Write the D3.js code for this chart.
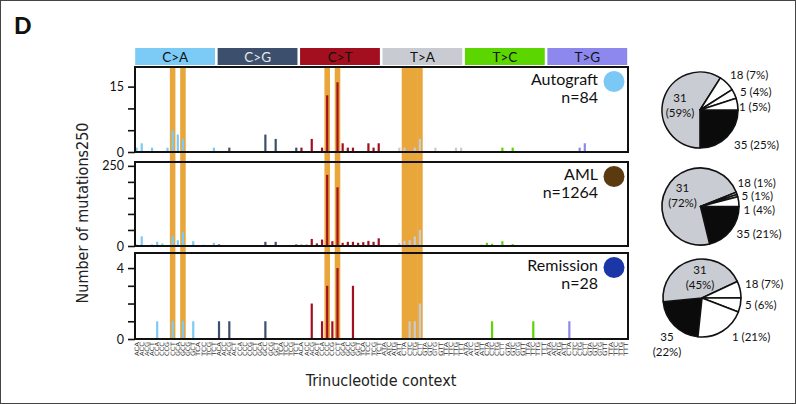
<!doctype html>
<html>
<head>
    <meta charset="UTF-8">
    <title>Trinucleotide context</title>
    <script src="https://d3js.org/d3.v7.min.js"></script>
    <style>
        body { margin: 0; background: #fff; }
        text { font-family: Lato, "Open Sans", sans-serif; fill: #111; }
        .cond { font-family: "DejaVu Sans Condensed", "DejaVu Sans", sans-serif; font-stretch: condensed; }
    </style>
</head>
<body>
    <script>
        // mutation types and their colours
        var categories = ["C>A", "C>G", "C>T", "T>A", "T>C", "T>G"];
        var catColors = ["#7ccaf6", "#3c4f6c", "#a30f1e", "#c8ccd2", "#5bd600", "#8c88ee"];
        var catText = ["#111", "#e8e8e8", "#111", "#111", "#111", "#111"];
        var bases = ["A", "C", "G", "T"];

        // samples
        var samples = ["Autograft", "AML", "Remission"];
        var counts = [84, 1264, 28];
        var sampleColors = ["#79c8f5", "#5b3a10", "#1b36a6"];
        var yMax = [19.5, 262, 4.85];
        var yTicks = [[0, 5, 10, 15], [0, 50, 100, 150, 200, 250], [0, 1, 2, 3, 4]];
        var yLabels = [[0, 15], [0, 250], [0, 4]];

        // 96 counts per sample, 16 per mutation type (C>A, C>G, C>T, T>A, T>C, T>G)
        var autograft = [
            1, 2, 0, 1, 0, 0, 1, 5, 4, 3, 0, 0, 0, 0, 0, 1,
            0, 0, 1, 0, 0, 0, 0, 0, 0, 4, 0, 3, 0, 0, 0, 1,
            1, 0, 3, 0, 1, 13, 0, 16, 2, 1, 1, 0, 0, 2, 1, 2,
            0, 0, 0, 1, 1, 0, 1, 3, 0, 0, 1, 0, 0, 0, 1, 1,
            0, 0, 0, 0, 0, 0, 0, 1, 0, 1, 0, 0, 0, 0, 0, 0,
            0, 0, 0, 0, 0, 0, 1, 2, 0, 0, 0, 0, 0, 0, 0, 0
        ];
        var aml = [
            5, 30, 1, 5, 13, 8, 2, 32, 18, 44, 2, 15, 2, 4, 1, 10,
            5, 2, 2, 2, 2, 2, 1, 2, 3, 13, 1, 13, 2, 2, 1, 5,
            4, 4, 22, 8, 20, 222, 15, 183, 10, 13, 13, 10, 12, 16, 13, 24,
            1, 1, 1, 9, 16, 18, 30, 50, 1, 1, 1, 1, 3, 1, 2, 3,
            3, 1, 3, 4, 10, 7, 2, 15, 2, 6, 1, 3, 2, 3, 2, 2,
            1, 2, 1, 2, 2, 2, 2, 1, 2, 1, 1, 1, 1, 1, 3, 1
        ];
        var remission = [
            0, 0, 0, 0, 1, 0, 0, 1, 0, 1, 0, 1, 0, 0, 0, 0,
            1, 0, 1, 0, 0, 0, 0, 0, 0, 1, 0, 0, 0, 0, 0, 0,
            0, 0, 2, 0, 1, 3, 1, 4, 0, 0, 3, 0, 0, 0, 0, 0,
            0, 0, 0, 0, 0, 1, 1, 2, 0, 0, 0, 0, 0, 0, 0, 0,
            0, 0, 0, 0, 0, 1, 0, 0, 0, 0, 0, 0, 0, 1, 0, 0,
            0, 0, 0, 0, 1, 0, 0, 0, 0, 0, 0, 0, 0, 0, 0, 0
        ];
        var sampleData = [autograft, aml, remission];

        // highlighted contexts (orange columns)
        var highlights = [7, 9, 37, 39, 52, 53, 54, 55];

        // signature pies: order clockwise 35, 31, 18, 5, 1
        var signatures = ["35", "31", "18", "5", "1"];
        var pieAutograft = [25, 59, 7, 4, 5];
        var pieAml = [21, 72, 1, 1, 4];
        var pieRemission = [22, 45, 7, 6, 21];
        var pieData = [pieAutograft, pieAml, pieRemission];

        // context labels
        var contexts = [];
        categories.forEach(function (c) {
            bases.forEach(function (b5) {
                bases.forEach(function (b3) {
                    contexts.push(b5 + c[0] + b3);
                });
            });
        });

        var w = 796, h = 404;
        var left = 134, right = 628.6;
        var panelTop = [67, 162, 253];
        var panelBottom = [152, 246, 339];

        var svg = d3.select("body").append("svg")
            .attr("width", w)
            .attr("height", h);

        svg.append("rect")
            .attr("x", 0.5).attr("y", 0.5)
            .attr("width", w - 1).attr("height", h - 1)
            .attr("fill", "#fff")
            .attr("stroke", "#444")
            .attr("stroke-width", 1);

        var x = d3.scaleBand().domain(d3.range(96)).range([left, right]).padding(0);
        var bw = x.bandwidth();
        var barW = 2.2;

        // panel letter
        svg.append("text")
            .attr("x", 14).attr("y", 34)
            .style("font-size", "23px")
            .style("font-weight", "900")
            .text("D");

        // header boxes
        var head = svg.selectAll("g.head").data(categories).enter().append("g").attr("class", "head");
        head.append("rect")
            .attr("x", function (d, i) { return x(i * 16) + 1.2; })
            .attr("y", 48)
            .attr("width", bw * 16 - 2.6)
            .attr("height", 17)
            .attr("fill", function (d, i) { return catColors[i]; });
        head.append("text")
            .attr("x", function (d, i) { return x(i * 16) + bw * 8; })
            .attr("y", 61.5)
            .attr("text-anchor", "middle")
            .style("font-size", "13.5px")
            .style("fill", function (d, i) { return catText[i]; })
            .text(function (d) { return d; });

        // orange highlight columns through all panels
        svg.selectAll("rect.hl").data(highlights).enter().append("rect")
            .attr("class", "hl")
            .attr("x", function (d) { return x(d) - 0.2; })
            .attr("y", panelTop[0])
            .attr("width", bw + 0.4)
            .attr("height", panelBottom[2] - panelTop[0])
            .attr("fill", "#e9a63b");

        samples.forEach(function (name, k) {
            var y = d3.scaleLinear().domain([0, yMax[k]]).range([panelBottom[k], panelTop[k]]);
            var g = svg.append("g");

            g.selectAll("rect.bar").data(sampleData[k]).enter().append("rect")
                .attr("class", "bar")
                .attr("x", function (d, i) { return x(i) + (bw - barW) / 2; })
                .attr("y", function (d) { return y(d); })
                .attr("width", barW)
                .attr("height", function (d) { return panelBottom[k] - y(d); })
                .attr("fill", function (d, i) { return catColors[Math.floor(i / 16)]; });

            // box
            g.append("rect")
                .attr("x", 135).attr("y", panelTop[k])
                .attr("width", 628 - 135).attr("height", panelBottom[k] - panelTop[k])
                .attr("fill", "none")
                .attr("stroke", "#111")
                .attr("stroke-width", 2);

            var axis = d3.axisLeft(y)
                .tickValues(yTicks[k])
                .tickSize(7)
                .tickPadding(4)
                .tickFormat(function (d) { return yLabels[k].indexOf(d) >= 0 ? d : ""; });
            var ax = g.append("g").attr("transform", "translate(135,0)").call(axis);
            ax.select(".domain").remove();
            ax.selectAll("line").attr("stroke", "#111").attr("stroke-width", 1.6);
            ax.selectAll("text").style("font-size", "12.5px").style("font-family", "Lato, sans-serif").attr("fill", "#111");

            // sample name, count, dot
            g.append("text")
                .attr("x", 598).attr("y", panelTop[k] + 18)
                .attr("text-anchor", "end")
                .style("font-size", "16px")
                .text(name);
            g.append("text")
                .attr("x", 598).attr("y", panelTop[k] + 36)
                .attr("text-anchor", "end")
                .style("font-size", "16px")
                .text("n=" + counts[k]);
            g.append("circle")
                .attr("cx", 614).attr("cy", panelTop[k] + 14.5)
                .attr("r", 10.5)
                .attr("fill", sampleColors[k]);
        });

        // x context labels
        svg.selectAll("text.ctx").data(contexts).enter().append("text")
            .attr("class", "ctx cond")
            .attr("transform", function (d, i) { return "translate(" + (x(i) + bw / 2 + 2) + ",342) rotate(-90)"; })
            .attr("text-anchor", "end")
            .attr("textLength", 14)
            .attr("lengthAdjust", "spacingAndGlyphs")
            .style("font-size", "6px")
            .style("fill", "#333")
            .text(function (d) { return d; });

        // axis titles
        svg.append("text")
            .attr("class", "cond")
            .attr("transform", "translate(88,213) rotate(-90)")
            .attr("text-anchor", "middle")
            .style("font-size", "16px")
            .style("fill", "#222")
            .text("Number of mutations250");
        svg.append("text")
            .attr("class", "cond")
            .attr("x", 381).attr("y", 386)
            .attr("text-anchor", "middle")
            .style("font-size", "16px")
            .style("fill", "#222")
            .text("Trinucleotide context");

        // pies
        var pieCenters = [[700, 110], [700.5, 206.5], [702, 298]];
        var pieR = [38, 38.5, 39];
        var pieStart = [90, 90, 186];
        var sliceFill = ["#0b0b0b", "#c9ccd2", "#fff", "#fff", "#fff"];
        // label offsets from pie centre: [dx, dy, twoLines]
        var labelPos = [
            [[34, 39, 0], [-20, -8, 1], [30, -31, 0], [40, -14, 0], [39, 1, 0]],
            [[36, 31, 0], [-18, -15, 1], [37, -20, 0], [41, -7, 0], [43, 7, 0]],
            [[-35, 43, 1], [-2, -24, 1], [43, -10, 0], [43, 11, 0], [30, 43, 0]]
        ];

        pieData.forEach(function (vals, k) {
            var s = pieStart[k] * Math.PI / 180;
            var pie = d3.pie().sort(null).value(function (d) { return d; })
                .startAngle(s).endAngle(s + 2 * Math.PI);
            var arc = d3.arc().innerRadius(0).outerRadius(pieR[k]);
            var g = svg.append("g")
                .attr("transform", "translate(" + pieCenters[k][0] + "," + pieCenters[k][1] + ")");
            var arcs = pie(vals);
            g.selectAll("path").data(arcs).enter().append("path")
                .attr("d", arc)
                .attr("fill", function (d, i) { return sliceFill[i]; })
                .attr("stroke", "#111")
                .attr("stroke-width", 1.6)
                .attr("stroke-linejoin", "round");

            arcs.forEach(function (a, i) {
                var lp = labelPos[k][i];
                var txt = g.append("text")
                    .attr("x", lp[0]).attr("y", lp[1])
                    .style("font-size", "11.5px");
                if (lp[2]) {
                    txt.attr("text-anchor", "middle").text(signatures[i]);
                    g.append("text")
                        .attr("x", lp[0]).attr("y", lp[1] + 15)
                        .attr("text-anchor", "middle")
                        .style("font-size", "11.5px")
                        .text("(" + vals[i] + "%)");
                } else {
                    txt.text(signatures[i] + " (" + vals[i] + "%)");
                }
            });
        });
    </script>
</body>
</html>
